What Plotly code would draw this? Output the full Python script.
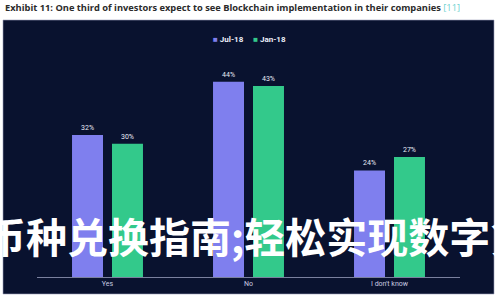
import plotly.graph_objects as go

categories = ["Yes", "No", "I don't know"]
jul18 = [32, 44, 24]
jan18 = [30, 43, 27]
series_names = ["Jul-18", "Jan-18"]
colors = ["#7f7fee", "#33c98b"]
title_text = "Exhibit 11: One third of investors expect to see Blockchain implementation in their companies"
overlay_text = "币种兑换指南;轻松实现数字货币"

W, H = 500, 300
L, R, T, B = 37, 40, 55, 23
pw, ph = W - L - R, H - T - B

def px_x(x):
    return (x - L) / pw

def px_y(y):
    return (H - B - y) / ph

fig = go.Figure()
for name, vals, col in zip(series_names, [jul18, jan18], colors):
    fig.add_trace(go.Bar(
        x=categories, y=vals, name=name, marker_color=col, marker_line_width=0,
        text=[f"{v}%" for v in vals], textposition="outside",
        textfont=dict(color="#e8eaf5", size=7, family="Roboto"),
        cliponaxis=False, showlegend=False,
    ))

fig.update_layout(
    width=W, height=H,
    margin=dict(l=L, r=R, t=T, b=B, pad=0),
    paper_bgcolor="white", plot_bgcolor="rgba(0,0,0,0)",
    barmode="group", bargap=0.433, bargroupgap=0.225,
    xaxis=dict(showline=True, linecolor="#7a809e", linewidth=1, ticks="",
               tickfont=dict(color="#c8cbe0", size=7, family="Roboto"),
               showgrid=False, zeroline=False, range=[-0.5, 2.5], fixedrange=True),
    yaxis=dict(range=[0, 50], visible=False, fixedrange=True),
    font=dict(family="Roboto"),
    shapes=[dict(type="rect", xref="paper", yref="paper", layer="below",
                 x0=px_x(3), x1=px_x(494), y0=px_y(294), y1=px_y(20),
                 fillcolor="#09122f", line=dict(color="#9aa0b8", width=0.6))],
)

ann = []
ann.append(dict(xref="paper", yref="paper", x=px_x(3), y=px_y(7), xanchor="left", yanchor="middle",
                text=f"<b>{title_text}</b> <span style='color:#6fd3d0'>[11]</span>",
                showarrow=False, font=dict(size=9.3, color="#2b2b2b", family="Open Sans")))
ann.append(dict(xref="paper", yref="paper", x=px_x(250), y=px_y(39), xanchor="center", yanchor="middle",
                text=f"<span style='color:{colors[0]}'>■</span> <b>{series_names[0]}</b>     "
                     f"<span style='color:{colors[1]}'>■</span> <b>{series_names[1]}</b>",
                showarrow=False, font=dict(size=8, color="#eef0fa", family="Roboto")))
ann.append(dict(xref="paper", yref="paper", x=px_x(-17), y=px_y(235), xanchor="left", yanchor="middle",
                text=f"<b>{overlay_text}</b>", showarrow=False,
                font=dict(size=41, color="white", family="Noto Sans CJK SC")))
fig.update_layout(annotations=ann)

fig.write_html("out.html")
